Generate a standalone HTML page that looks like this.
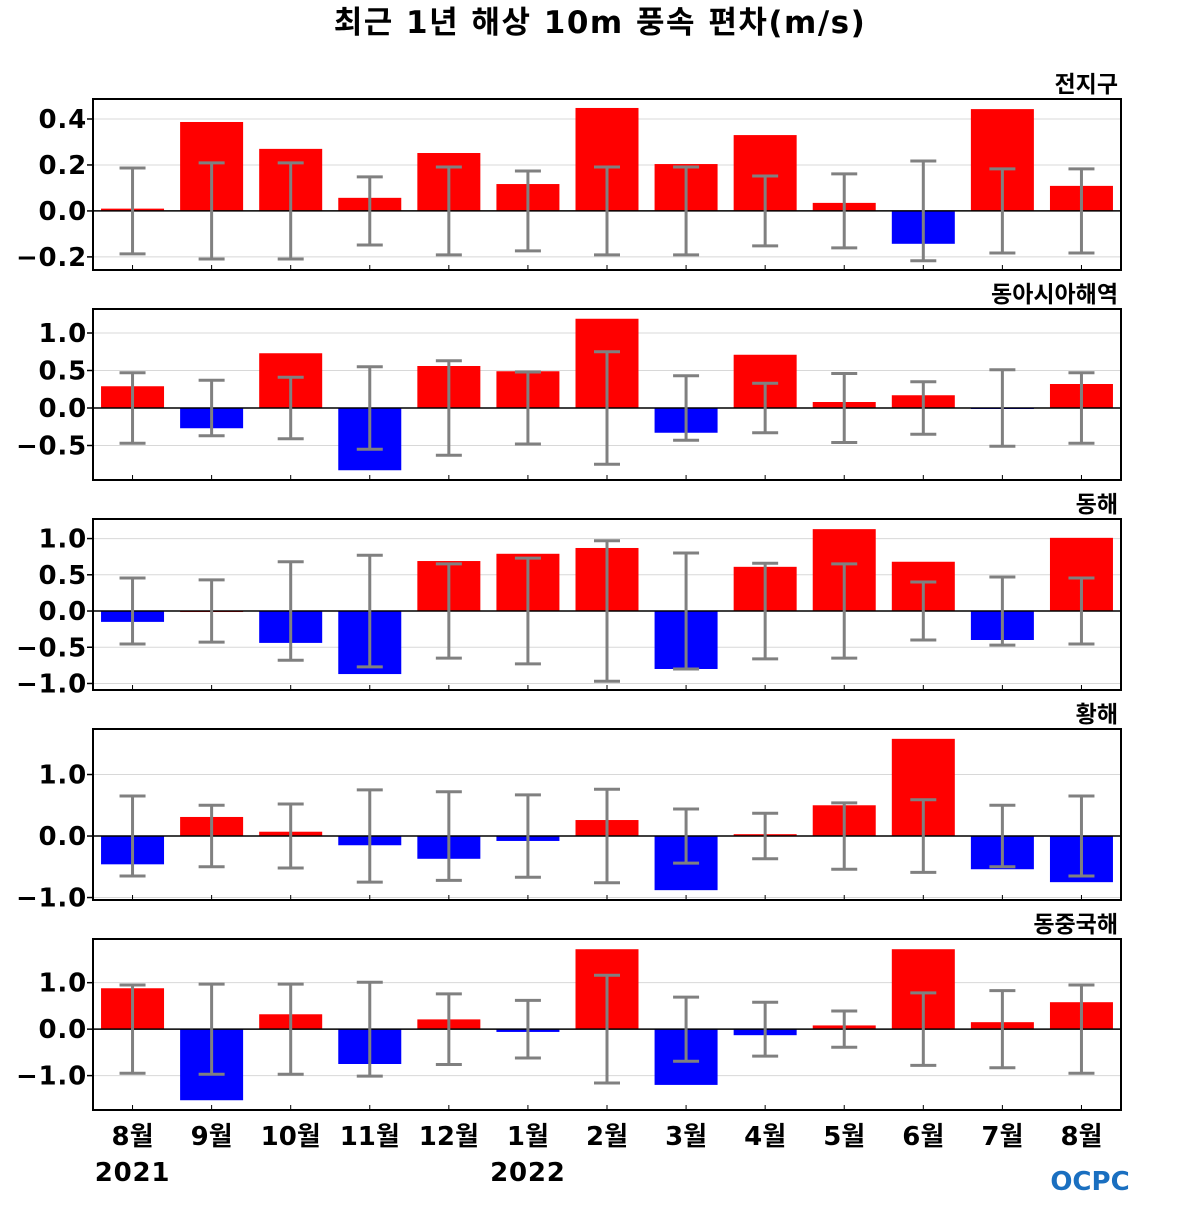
<!DOCTYPE html>
<html><head><meta charset="utf-8"><style>
html,body{margin:0;padding:0;background:#fff;}
svg text{font-family:"DejaVu Sans","Liberation Sans","Noto Sans CJK KR",sans-serif;font-weight:bold;}
</style></head><body>
<svg id="chart" width="1200" height="1200" viewBox="0 0 1200 1200" xmlns="http://www.w3.org/2000/svg">
<text x="600" y="33" font-size="31" letter-spacing="1.5" text-anchor="middle">최근 1년 해상 10m 풍속 편차(m/s)</text>
<text x="1090" y="1190" font-size="26" fill="#1a6fc0" text-anchor="middle">OCPC</text>
</svg>
<script>
const months = ["8월","9월","10월","11월","12월","1월","2월","3월","4월","5월","6월","7월","8월"];
const regionNames = ["전지구","동아시아해역","동해","황해","동중국해"];
const globalVals = [0.01,0.387,0.27,0.057,0.252,0.117,0.448,0.204,0.33,0.035,-0.143,0.443,0.109];
const globalErr = [0.187,0.209,0.209,0.148,0.191,0.174,0.191,0.191,0.152,0.161,0.217,0.183,0.183];
const eastAsiaVals = [0.29,-0.27,0.73,-0.83,0.56,0.49,1.19,-0.33,0.71,0.08,0.17,-0.01,0.32];
const eastAsiaErr = [0.47,0.37,0.41,0.55,0.63,0.48,0.75,0.43,0.33,0.46,0.35,0.51,0.47];
const eastSeaVals = [-0.15,0.0,-0.44,-0.87,0.69,0.79,0.87,-0.8,0.61,1.13,0.68,-0.4,1.01];
const eastSeaErr = [0.455,0.43,0.68,0.77,0.65,0.73,0.97,0.8,0.66,0.65,0.4,0.47,0.455];
const yellowSeaVals = [-0.46,0.31,0.07,-0.15,-0.37,-0.08,0.26,-0.88,0.03,0.5,1.58,-0.54,-0.75];
const yellowSeaErr = [0.65,0.5,0.52,0.75,0.72,0.67,0.76,0.44,0.37,0.54,0.59,0.5,0.65];
const ecsVals = [0.88,-1.53,0.32,-0.75,0.21,-0.06,1.72,-1.2,-0.13,0.08,1.72,0.15,0.58];
const ecsErr = [0.95,0.97,0.97,1.01,0.76,0.62,1.16,0.69,0.58,0.39,0.78,0.83,0.95];
const tickSets = [[0.4,0.2,0.0,-0.2],[1.0,0.5,0.0,-0.5],[1.0,0.5,0.0,-0.5,-1.0],[1.0,0.0,-1.0],[1.0,0.0,-1.0]];
const yDomains = [[-0.257,0.487],[-0.96,1.32],[-1.09,1.27],[-1.04,1.74],[-1.74,1.94]];
const allVals=[globalVals,eastAsiaVals,eastSeaVals,yellowSeaVals,ecsVals];
const allErr=[globalErr,eastAsiaErr,eastSeaErr,yellowSeaErr,ecsErr];
const svg=document.getElementById('chart');
const NS="http://www.w3.org/2000/svg";
function mk(t,a,p){const e=document.createElementNS(NS,t);for(const k in a)e.setAttribute(k,a[k]);(p||svg).appendChild(e);return e;}
const X0=93,X1=1121;
const step=(X1-X0)/13;
function xs(i){return X0+(i+0.5)*step;}
const tops=[99,309,519,729,939],H=171;
function fmt(v){return (v<0?"\u2212":"")+Math.abs(v).toFixed(1);}
for(let p=0;p<5;p++){
  const top=tops[p],bot=top+H,[lo,hi]=yDomains[p];
  const ys=v=>bot-(v-lo)/(hi-lo)*H;
  const g=mk('g',{});
  
  
  const ti=mk('text',{x:X1-3,y:top-7,'font-size':23,'text-anchor':'end'},g);ti.textContent=regionNames[p];
  
  
  tickSets[p].forEach(t=>{
    const y=ys(t);
    const gl=mk('line',{x1:X0,x2:X1,y1:y,y2:y,stroke:'#d8d8d8','stroke-width':1},g);
    
    
    mk('line',{x1:X0-6,x2:X0,y1:y,y2:y,stroke:'#000','stroke-width':1.5},g);
    const tl=mk('text',{x:X0-6,y:y+9,'font-size':26,'letter-spacing':'0.8','text-anchor':'end'},g);tl.textContent=fmt(t);
    
    
  });
  const z=ys(0);
  allVals[p].forEach((v,i)=>{
    const cx=xs(i);
    const r=mk('rect',{x:cx-31.5,y:Math.min(ys(v),z),width:63,height:Math.max(Math.abs(ys(v)-z),1),fill:v>=0?'#ff0000':'#0000ff'},g);
    
    
  });
  mk('line',{x1:X0,x2:X1,y1:z,y2:z,stroke:'#000','stroke-width':1.5},g);
  allErr[p].forEach((e,i)=>{
    const cx=xs(i),a=ys(e),b=ys(-e);
    const eb=mk('g',{stroke:'#808080','stroke-width':3},g);
    
    
    mk('line',{x1:cx,x2:cx,y1:a,y2:b},eb);
    mk('line',{x1:cx-13,x2:cx+13,y1:a,y2:a},eb);
    mk('line',{x1:cx-13,x2:cx+13,y1:b,y2:b},eb);
    mk('line',{x1:cx,x2:cx,y1:bot,y2:bot-5,stroke:'#000','stroke-width':1},g);
  });
  const fr=mk('rect',{x:X0,y:top,width:X1-X0,height:H,fill:'none',stroke:'#000','stroke-width':2},g);
  
  
}
months.forEach((m,i)=>{
  const t=mk('text',{x:xs(i),y:1145,'font-size':26,'text-anchor':'middle'});t.textContent=m;
  
  
});
[[0,"2021"],[5,"2022"]].forEach(([i,s])=>{
  const t=mk('text',{x:xs(i),y:1181,'font-size':26,'letter-spacing':'0.8','text-anchor':'middle'});t.textContent=s;
  
  
});
</script>
</body></html>
